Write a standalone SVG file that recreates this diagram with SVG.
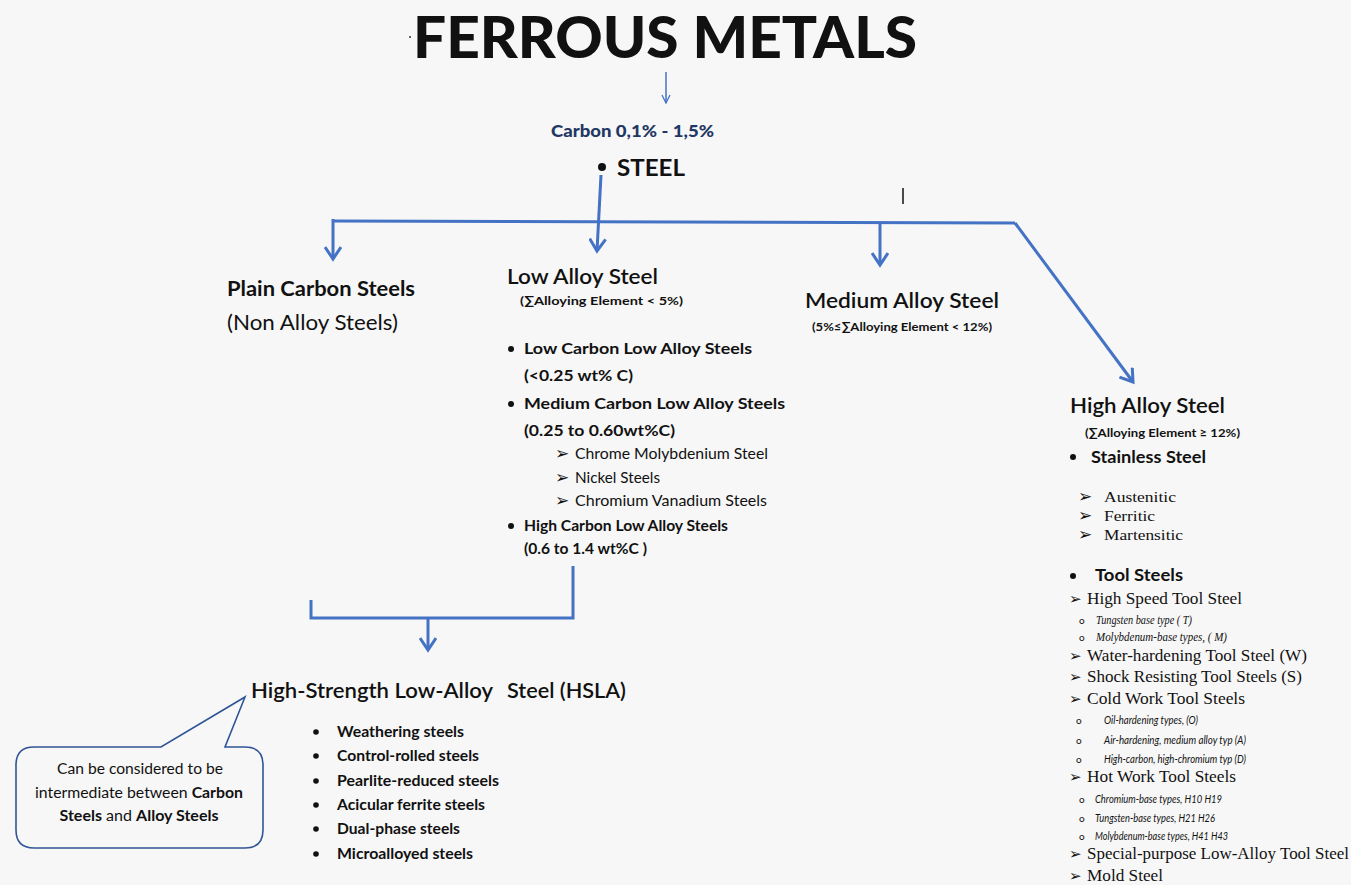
<svg xmlns="http://www.w3.org/2000/svg" width="1351" height="885" viewBox="0 0 1351 885">
<defs>
<style>
.s{font-family:Lato,"Liberation Sans","Noto Sans",sans-serif;fill:#111}
.b{font-weight:bold}
.r{font-family:"Liberation Serif","DejaVu Serif",serif;fill:#111}
.i{font-style:italic}
.h{font-size:21px}
.sm{font-size:12px;font-weight:bold}
.li{font-size:16px;font-weight:bold}
.sub{font-size:15px}
.ser{font-size:16px}
.it{font-size:12px}
.conn{fill:none;stroke:#4472c4;stroke-width:3}
</style>
<marker id="ah" viewBox="0 0 16 18" refX="13" refY="9" markerWidth="16" markerHeight="18" markerUnits="userSpaceOnUse" orient="auto">
<path d="M1,1 L13,9 L1,17" fill="none" stroke="#4472c4" stroke-width="3"/>
</marker>
<marker id="ahs" viewBox="0 0 10 10" refX="9" refY="5" markerWidth="10" markerHeight="10" markerUnits="userSpaceOnUse" orient="auto">
<path d="M1,1 L9,5 L1,9" fill="none" stroke="#4472c4" stroke-width="1.3"/>
</marker>
</defs>
<rect width="1351" height="885" fill="#f7f7f7"/>

<g id="connectors">
<path class="conn" d="M666,72 L666,103" style="stroke-width:1.5" marker-end="url(#ahs)"/>
<path class="conn" d="M601,175 L597,251" marker-end="url(#ah)"/>
<path class="conn" d="M333,221 L1015,223"/>
<path class="conn" d="M333,219 L333,259" marker-end="url(#ah)"/>
<path class="conn" d="M880,222 L880,265" marker-end="url(#ah)"/>
<path class="conn" d="M1015,223 L1133,382" marker-end="url(#ah)"/>
<path class="conn" d="M311,600 L311,618 L573,618 L573,566"/>
<path class="conn" d="M428,618 L428,650" marker-end="url(#ah)"/>
</g>

<g id="title">
<circle cx="410" cy="37" r="1" fill="#333"/>
<text class="s b" x="413" y="58" font-size="57" textLength="504" lengthAdjust="spacingAndGlyphs" style="font-weight:900">FERROUS METALS</text>
</g>

<g id="carbon">
<text class="s b" x="551" y="137" font-size="17" textLength="163" lengthAdjust="spacingAndGlyphs" style="fill:#1f3864;font-weight:900">Carbon  0,1% - 1,5%</text>
</g>

<g id="steel">
<circle cx="602" cy="167" r="4" fill="#111"/>
<text class="s b" x="617" y="176" font-size="23" textLength="68" lengthAdjust="spacingAndGlyphs">STEEL</text>
</g>

<line x1="903" y1="188" x2="903" y2="204" stroke="#111" stroke-width="1.5"/>

<g id="plain-carbon">
<text class="s b h" x="227" y="296" textLength="188" lengthAdjust="spacingAndGlyphs">Plain Carbon Steels</text>
<text class="s h" x="227" y="330" textLength="171" lengthAdjust="spacingAndGlyphs">(Non Alloy Steels)</text>
</g>

<g id="low-alloy">
<text class="s h" x="507" y="284" textLength="151" lengthAdjust="spacingAndGlyphs" style="font-weight:600">Low Alloy Steel</text>
<text class="s sm" x="520" y="305" textLength="163" lengthAdjust="spacingAndGlyphs">(∑Alloying Element  &lt; 5%)</text>
<circle cx="511" cy="349" r="3" fill="#111"/>
<text class="s li" x="524" y="354" textLength="228" lengthAdjust="spacingAndGlyphs">Low Carbon Low Alloy Steels</text>
<text class="s li" x="524" y="381" textLength="109" lengthAdjust="spacingAndGlyphs">(&lt;0.25 wt% C)</text>
<circle cx="511" cy="404" r="3" fill="#111"/>
<text class="s li" x="524" y="409" textLength="261" lengthAdjust="spacingAndGlyphs">Medium Carbon  Low Alloy Steels</text>
<text class="s li" x="524" y="436" textLength="151" lengthAdjust="spacingAndGlyphs">(0.25 to 0.60wt%C)</text>
<text class="s" x="555" y="459" font-size="17">➢</text>
<text class="s sub" x="575" y="459" textLength="193" lengthAdjust="spacingAndGlyphs">Chrome Molybdenium Steel</text>
<text class="s" x="555" y="483" font-size="17">➢</text>
<text class="s sub" x="575" y="483" textLength="85" lengthAdjust="spacingAndGlyphs">Nickel Steels</text>
<text class="s" x="555" y="506" font-size="17">➢</text>
<text class="s sub" x="575" y="506" textLength="192" lengthAdjust="spacingAndGlyphs">Chromium Vanadium Steels</text>
<circle cx="511" cy="526" r="3" fill="#111"/>
<text class="s b" x="524" y="531" font-size="14.5" textLength="204" lengthAdjust="spacingAndGlyphs">High Carbon Low Alloy Steels</text>
<text class="s b" x="524" y="554" font-size="14.5" textLength="123" lengthAdjust="spacingAndGlyphs">(0.6 to 1.4 wt%C )</text>
</g>

<g id="medium-alloy">
<text class="s h" x="805" y="308" textLength="194" lengthAdjust="spacingAndGlyphs" style="font-weight:600">Medium Alloy Steel</text>
<text class="s sm" x="812" y="331" textLength="180" lengthAdjust="spacingAndGlyphs">(5%≤∑Alloying Element  &lt; 12%)</text>
</g>

<g id="high-alloy">
<text class="s h" x="1070" y="413" textLength="155" lengthAdjust="spacingAndGlyphs" style="font-weight:600">High Alloy Steel</text>
<text class="s sm" x="1085" y="437" textLength="155" lengthAdjust="spacingAndGlyphs">(∑Alloying Element ≥ 12%)</text>
<circle cx="1073" cy="457" r="3" fill="#111"/>
<text class="s b" x="1091" y="463" font-size="17" textLength="115" lengthAdjust="spacingAndGlyphs">Stainless Steel</text>
<text class="s" x="1078" y="502" font-size="17">➢</text>
<text class="r sub" x="1104" y="502" textLength="72" lengthAdjust="spacingAndGlyphs">Austenitic</text>
<text class="s" x="1078" y="521" font-size="17">➢</text>
<text class="r sub" x="1104" y="521" textLength="51" lengthAdjust="spacingAndGlyphs">Ferritic</text>
<text class="s" x="1078" y="540" font-size="17">➢</text>
<text class="r sub" x="1104" y="540" textLength="79" lengthAdjust="spacingAndGlyphs">Martensitic</text>
<circle cx="1073" cy="576" r="3" fill="#111"/>
<text class="s b" x="1095" y="581" font-size="17" textLength="88" lengthAdjust="spacingAndGlyphs">Tool Steels</text>
<text class="s" x="1069" y="604" font-size="15">➢</text>
<text class="r ser" x="1087" y="604" textLength="155" lengthAdjust="spacingAndGlyphs">High Speed Tool Steel</text>
<text class="s" x="1079" y="624" font-size="10">o</text>
<text class="r i it" x="1096" y="624" textLength="96" lengthAdjust="spacingAndGlyphs">Tungsten base type ( T)</text>
<text class="s" x="1079" y="641" font-size="10">o</text>
<text class="r i it" x="1096" y="641" textLength="131" lengthAdjust="spacingAndGlyphs">Molybdenum-base types, ( M)</text>
<text class="s" x="1069" y="661" font-size="15">➢</text>
<text class="r ser" x="1087" y="661" textLength="220" lengthAdjust="spacingAndGlyphs">Water-hardening Tool Steel (W)</text>
<text class="s" x="1069" y="682" font-size="15">➢</text>
<text class="r ser" x="1087" y="682" textLength="215" lengthAdjust="spacingAndGlyphs">Shock Resisting Tool Steels (S)</text>
<text class="s" x="1069" y="704" font-size="15">➢</text>
<text class="r ser" x="1087" y="704" textLength="158" lengthAdjust="spacingAndGlyphs">Cold Work Tool Steels</text>
<text class="s" x="1076" y="724" font-size="10">o</text>
<text class="s i it" x="1104" y="724" textLength="94" lengthAdjust="spacingAndGlyphs">Oil-hardening types, (O)</text>
<text class="s" x="1076" y="744" font-size="10">o</text>
<text class="s i it" x="1104" y="744" textLength="142" lengthAdjust="spacingAndGlyphs">Air-hardening, medium alloy typ (A)</text>
<text class="s" x="1076" y="763" font-size="10">o</text>
<text class="s i it" x="1104" y="763" textLength="142" lengthAdjust="spacingAndGlyphs">High-carbon, high-chromium typ (D)</text>
<text class="s" x="1069" y="782" font-size="15">➢</text>
<text class="r ser" x="1087" y="782" textLength="149" lengthAdjust="spacingAndGlyphs">Hot Work Tool Steels</text>
<text class="s" x="1079" y="803" font-size="10">o</text>
<text class="s i it" x="1095" y="803" textLength="127" lengthAdjust="spacingAndGlyphs">Chromium-base types, H10 H19</text>
<text class="s" x="1079" y="822" font-size="10">o</text>
<text class="s i it" x="1095" y="822" textLength="120" lengthAdjust="spacingAndGlyphs">Tungsten-base types, H21 H26</text>
<text class="s" x="1079" y="840" font-size="10">o</text>
<text class="s i it" x="1095" y="840" textLength="133" lengthAdjust="spacingAndGlyphs">Molybdenum-base types, H41 H43</text>
<text class="s" x="1069" y="859" font-size="15">➢</text>
<text class="r ser" x="1087" y="859" textLength="262" lengthAdjust="spacingAndGlyphs">Special-purpose Low-Alloy Tool Steel</text>
<text class="s" x="1069" y="881" font-size="15">➢</text>
<text class="r ser" x="1087" y="881" textLength="76" lengthAdjust="spacingAndGlyphs">Mold Steel</text>
</g>

<g id="hsla">
<text class="s h" x="251" y="698" textLength="242" lengthAdjust="spacingAndGlyphs" style="font-weight:600">High-Strength Low-Alloy</text>
<text class="s h" x="507" y="698" textLength="119" lengthAdjust="spacingAndGlyphs" style="font-weight:600">Steel (HSLA)</text>
<circle cx="316" cy="732" r="2.8" fill="#111"/>
<text class="s b" x="337" y="737" font-size="15" textLength="127" lengthAdjust="spacingAndGlyphs">Weathering steels</text>
<circle cx="316" cy="756" r="2.8" fill="#111"/>
<text class="s b" x="337" y="761" font-size="15" textLength="142" lengthAdjust="spacingAndGlyphs">Control-rolled steels</text>
<circle cx="316" cy="781" r="2.8" fill="#111"/>
<text class="s b" x="337" y="786" font-size="15" textLength="162" lengthAdjust="spacingAndGlyphs">Pearlite-reduced steels</text>
<circle cx="316" cy="805" r="2.8" fill="#111"/>
<text class="s b" x="337" y="810" font-size="15" textLength="148" lengthAdjust="spacingAndGlyphs">Acicular ferrite steels</text>
<circle cx="316" cy="829" r="2.8" fill="#111"/>
<text class="s b" x="337" y="834" font-size="15" textLength="123" lengthAdjust="spacingAndGlyphs">Dual-phase steels</text>
<circle cx="316" cy="854" r="2.8" fill="#111"/>
<text class="s b" x="337" y="859" font-size="15" textLength="136" lengthAdjust="spacingAndGlyphs">Microalloyed steels</text>
</g>

<g id="callout">
<path d="M34,747 L161,747 L245,697 L225,747 L245,747 Q263,747 263,765 L263,830 Q263,848 245,848 L34,848 Q16,848 16,830 L16,765 Q16,747 34,747 Z" fill="#f7f7f7" stroke="#2f5597" stroke-width="1.6"/>
<text class="s" x="140" y="774" font-size="14.5" text-anchor="middle" textLength="166" lengthAdjust="spacingAndGlyphs">Can be considered to be</text>
<text class="s" x="139" y="798" font-size="14.5" text-anchor="middle" textLength="208" lengthAdjust="spacingAndGlyphs">intermediate between <tspan class="b">Carbon</tspan></text>
<text class="s" x="139" y="821" font-size="14.5" text-anchor="middle" textLength="159" lengthAdjust="spacingAndGlyphs"><tspan class="b">Steels</tspan> and <tspan class="b">Alloy Steels</tspan></text>
</g>
</svg>
